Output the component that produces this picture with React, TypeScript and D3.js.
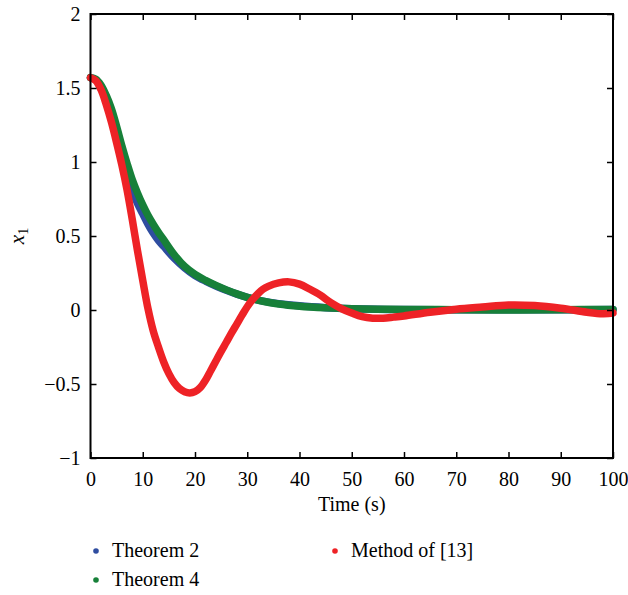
import { useEffect, useRef } from "react";
import * as d3 from "d3";

// time samples (s) and state x1 for each method
const timeT2 = [0, 1, 2, 3, 4, 5, 6, 7, 8, 9, 10, 11, 12, 13, 14, 16, 18, 20, 22, 24, 26, 28, 30, 33, 36, 40, 45, 50, 55, 60, 70, 80, 90, 100];
const theorem2 = [1.57, 1.555, 1.51, 1.43, 1.33, 1.2, 1.05, 0.92, 0.81, 0.72, 0.65, 0.58, 0.52, 0.47, 0.43, 0.35, 0.285, 0.233, 0.195, 0.162, 0.133, 0.107, 0.085, 0.06, 0.043, 0.028, 0.016, 0.009, 0.005, 0.003, 0.002, 0.001, 0.002, 0.003];

const timeT4 = [0, 1, 2, 3, 4, 5, 6, 7, 8, 9, 10, 11, 12, 13, 14, 16, 18, 20, 22, 24, 26, 28, 30, 33, 36, 40, 45, 50, 55, 60, 70, 80, 90, 100];
const theorem4 = [1.57, 1.56, 1.52, 1.45, 1.36, 1.24, 1.11, 0.99, 0.88, 0.79, 0.71, 0.64, 0.58, 0.525, 0.475, 0.375, 0.295, 0.24, 0.2, 0.166, 0.136, 0.109, 0.085, 0.059, 0.041, 0.026, 0.015, 0.008, 0.005, 0.004, 0.002, 0.0, 0.002, 0.004];

const timeM13 = [0, 1, 2, 3, 4, 5, 6, 7, 8, 9, 10, 11, 12, 13, 14, 15, 16, 17, 18, 19, 20, 21, 22, 23, 24, 25, 26, 27, 28, 29, 30, 31, 32, 33, 34, 36, 38, 40, 42, 44, 46, 48, 50, 52, 54, 56, 58, 60, 65, 70, 75, 80, 85, 90, 95, 98, 100];
const method13 = [1.57, 1.55, 1.49, 1.39, 1.27, 1.13, 0.98, 0.81, 0.61, 0.4, 0.2, 0.01, -0.14, -0.25, -0.35, -0.43, -0.49, -0.53, -0.552, -0.56, -0.552, -0.525, -0.475, -0.41, -0.345, -0.28, -0.218, -0.155, -0.095, -0.035, 0.022, 0.07, 0.108, 0.14, 0.16, 0.183, 0.19, 0.175, 0.14, 0.1, 0.05, 0.01, -0.02, -0.045, -0.055, -0.055, -0.048, -0.04, -0.015, 0.005, 0.02, 0.034, 0.03, 0.012, -0.015, -0.025, -0.02];

const xTicks = [0, 10, 20, 30, 40, 50, 60, 70, 80, 90, 100];
const yTicks = [-1, -0.5, 0, 0.5, 1, 1.5, 2];

const series = [
  { name: "Theorem 2", t: timeT2, v: theorem2, color: "#2f4da0" },
  { name: "Theorem 4", t: timeT4, v: theorem4, color: "#178039" },
  { name: "Method of [13]", t: timeM13, v: method13, color: "#ee2226" },
];

const App = () => {
  const svgRef = useRef(null);
  const width = 628;
  const height = 595;
  const margin = { top: 14, right: 15, bottom: 137, left: 90.5 };

  useEffect(() => {
    document.body.style.margin = "0";
    const svg = d3.select(svgRef.current);
    svg.selectAll("*").remove();

    const font = "'Liberation Serif', 'Times New Roman', serif";
    const fs = 20;

    const x = d3.scaleLinear().domain([0, 100]).range([margin.left, width - margin.right]);
    const y = d3.scaleLinear().domain([-1, 2]).range([height - margin.bottom, margin.top]);

    const line = d3
      .line()
      .x((d) => x(d[0]))
      .y((d) => y(d[1]))
      .curve(d3.curveCatmullRom.alpha(0.5));

    // curves
    series.forEach((s) => {
      svg
        .append("path")
        .datum(s.t.map((t, i) => [t, s.v[i]]))
        .attr("d", line)
        .attr("fill", "none")
        .attr("stroke", s.color)
        .attr("stroke-width", 7.5)
        .attr("stroke-linecap", "round")
        .attr("stroke-linejoin", "round");
    });

    // box
    svg
      .append("rect")
      .attr("x", x(0))
      .attr("y", y(2))
      .attr("width", x(100) - x(0))
      .attr("height", y(-1) - y(2))
      .attr("fill", "none")
      .attr("stroke", "#000")
      .attr("stroke-width", 2);

    // axes with inward ticks
    const tickLen = 6;
    const axes = [
      { g: d3.axisBottom(x).tickValues(xTicks).tickSizeInner(-tickLen).tickSizeOuter(0).tickFormat(d3.format("d")), tr: `translate(0,${y(-1)})` },
      { g: d3.axisTop(x).tickValues(xTicks).tickSizeInner(-tickLen).tickSizeOuter(0).tickFormat(() => ""), tr: `translate(0,${y(2)})` },
      { g: d3.axisLeft(y).tickValues(yTicks).tickSizeInner(-tickLen).tickSizeOuter(0).tickFormat((d) => (d < 0 ? "\u2212" + Math.abs(d) : String(d))), tr: `translate(${x(0)},0)` },
      { g: d3.axisRight(y).tickValues(yTicks).tickSizeInner(-tickLen).tickSizeOuter(0).tickFormat(() => ""), tr: `translate(${x(100)},0)` },
    ];
    axes.forEach((a, i) => {
      const g = svg.append("g").attr("transform", a.tr).call(a.g);
      g.attr("font-family", font).attr("font-size", fs);
      g.select(".domain").remove();
      g.selectAll(".tick line").attr("stroke", "#000").attr("stroke-width", 1.5);
      g.selectAll(".tick text").attr("fill", "#000");
      if (i === 0) g.selectAll(".tick text").attr("y", 3).attr("dy", 25);
      if (i === 2) g.selectAll(".tick text").attr("x", -10).attr("dy", "0.34em");
    });

    // axis titles
    svg
      .append("text")
      .attr("x", (x(0) + x(100)) / 2)
      .attr("y", y(-1) + 53)
      .attr("text-anchor", "middle")
      .attr("font-family", font)
      .attr("font-size", fs)
      .text("Time (s)");

    const yl = svg
      .append("text")
      .attr("transform", `translate(24,${(y(2) + y(-1)) / 2}) rotate(-90)`)
      .attr("text-anchor", "middle")
      .attr("font-family", font)
      .attr("font-size", 21);
    yl.append("tspan").attr("font-style", "italic").text("x");
    yl.append("tspan").attr("font-size", 14).attr("dy", 4).text("1");

    // legend
    const legendPos = [
      { x: 96, y: 551 },
      { x: 96, y: 580 },
      { x: 335, y: 551 },
    ];
    series.forEach((s, i) => {
      const p = legendPos[i];
      svg.append("circle").attr("cx", p.x).attr("cy", p.y).attr("r", 2.8).attr("fill", s.color);
      svg
        .append("text")
        .attr("x", p.x + 16)
        .attr("y", p.y + 6)
        .attr("font-family", font)
        .attr("font-size", fs)
        .text(s.name);
    });
  }, []);

  return <svg ref={svgRef} width={width} height={height} style={{ display: "block", background: "#fff" }} />;
};

export default App;
